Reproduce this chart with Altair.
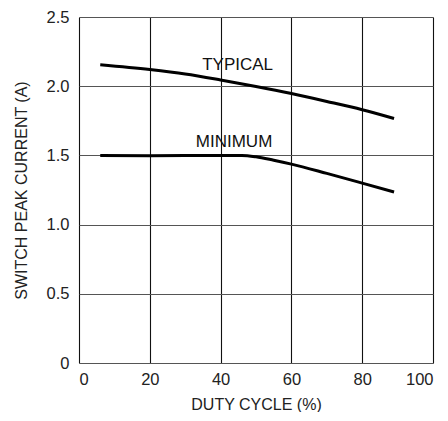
import altair as alt
import pandas as pd

typ_x = [6, 20, 30, 40, 50, 60, 70, 80, 89]
typ_y = [2.155, 2.12, 2.088, 2.045, 1.998, 1.947, 1.89, 1.83, 1.767]

min_x = [6, 20, 40, 46, 50, 55, 60, 70, 80, 89]
min_y = [1.5, 1.498, 1.5, 1.5, 1.49, 1.465, 1.437, 1.37, 1.30, 1.236]

label_text = ["TYPICAL", "MINIMUM"]
label_x = [44.8, 43.8]
label_y = [2.152, 1.598]

x_ticks = [0, 20, 40, 60, 80, 100]
y_ticks = [0, 0.5, 1.0, 1.5, 2.0, 2.5]

FONT = "Liberation Sans"

df = pd.concat([
    pd.DataFrame({"duty": typ_x, "current": typ_y, "series": "TYPICAL"}),
    pd.DataFrame({"duty": min_x, "current": min_y, "series": "MINIMUM"}),
])
lab = pd.DataFrame({"duty": label_x, "current": label_y, "text": label_text})

xs = alt.Scale(domain=[0, 100], nice=False)
ys = alt.Scale(domain=[0, 2.5], nice=False)

xaxis = alt.Axis(values=x_ticks, title="DUTY CYCLE (%)", grid=True, gridColor="#111",
                 gridWidth=1.1, gridOpacity=1, domain=False, ticks=False,
                 labelFont=FONT, labelFontSize=16.5, labelColor="#222", labelPadding=8,
                 titleFont=FONT, titleFontSize=16, titleFontWeight="normal", titleColor="#222",
                 titlePadding=9)
yaxis = alt.Axis(values=y_ticks, title="SWITCH PEAK CURRENT (A)", grid=True, gridColor="#555",
                 gridWidth=1.1, gridOpacity=1, domain=False, ticks=False,
                 labelFont=FONT, labelFontSize=16.5, labelColor="#222", labelPadding=10,
                 labelExpr="datum.value == 0 ? '0' : format(datum.value, '.1f')",
                 titleFont=FONT, titleFontSize=16, titleFontWeight="normal", titleColor="#222",
                 titlePadding=17)

lines = alt.Chart(df).mark_line(color="black", strokeWidth=3, interpolate="monotone").encode(
    x=alt.X("duty:Q", scale=xs, axis=xaxis),
    y=alt.Y("current:Q", scale=ys, axis=yaxis),
    detail="series:N",
)

texts = alt.Chart(lab).mark_text(font=FONT, fontSize=17, color="#111", baseline="middle", align="center").encode(
    x=alt.X("duty:Q", scale=xs),
    y=alt.Y("current:Q", scale=ys),
    text="text:N",
)

chart = alt.layer(lines, texts).properties(
    width=354, height=346,
    autosize=alt.AutoSizeParams(type="none"),
    padding={"left": 71, "top": 9, "right": 7, "bottom": 49},
).configure_view(stroke="#111", strokeWidth=2).configure(background="white")

chart.save("out.html", embed_options={"renderer": "svg", "actions": False})
